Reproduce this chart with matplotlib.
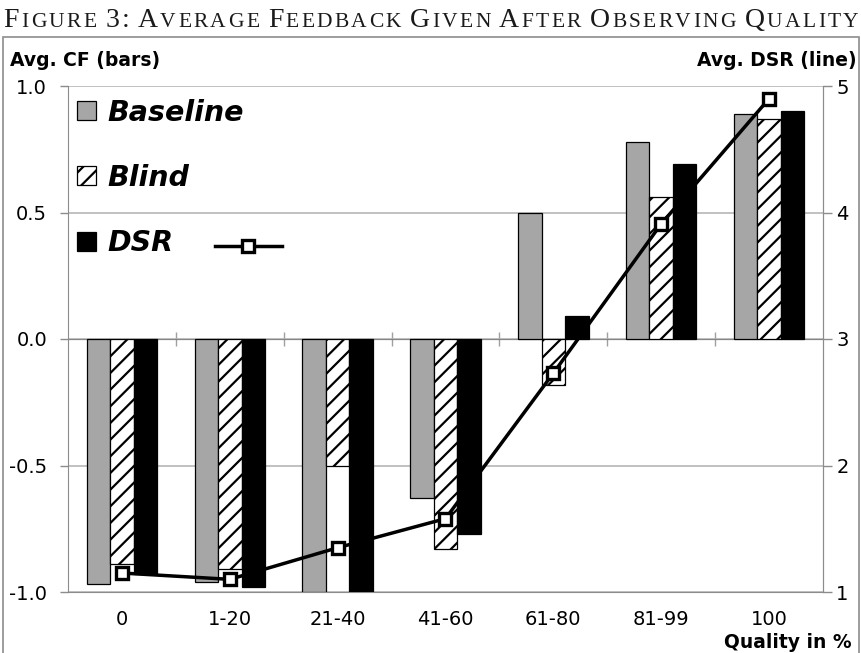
import matplotlib
matplotlib.use("Agg")
import matplotlib.pyplot as plt
from matplotlib.patches import Patch, Rectangle
from matplotlib.lines import Line2D

plt.rcParams['font.family'] = 'DejaVu Sans'
plt.rcParams['axes.unicode_minus'] = False
plt.rcParams['hatch.linewidth'] = 1.6

# data
categories = ["0", "1-20", "21-40", "41-60", "61-80", "81-99", "100"]
baseline_cf = [-0.97, -0.96, -1.00, -0.63, 0.50, 0.78, 0.89]
blind_cf = [-0.89, -0.91, -0.50, -0.83, -0.18, 0.56, 0.87]
dsr_cf = [-0.93, -0.98, -1.00, -0.77, 0.09, 0.69, 0.90]
dsr_line = [1.15, 1.10, 1.35, 1.58, 2.73, 3.91, 4.90]

left_ticks = [-1.0, -0.5, 0.0, 0.5, 1.0]
right_ticks = [1, 2, 3, 4, 5]

W, H = 862, 653
fig = plt.figure(figsize=(W / 100, H / 100), dpi=100)
ax = fig.add_axes([68 / W, (H - 592) / H, (823 - 68) / W, (592 - 86) / H])

x = list(range(len(categories)))
bw = 0.218
grey = "#a6a6a6"
ax.bar([i - bw for i in x], baseline_cf, bw, color=grey, edgecolor="black", linewidth=0.9, zorder=3)
ax.bar(x, blind_cf, bw, color="white", edgecolor="black", hatch="//", linewidth=0.9, zorder=3)
ax.bar([i + bw for i in x], dsr_cf, bw, color="black", edgecolor="black", linewidth=0.9, zorder=3)

ax.set_xlim(-0.5, len(categories) - 0.5)
ax.set_ylim(-1, 1)
ax.set_yticks(left_ticks)
ax.set_yticklabels(["%.1f" % v for v in left_ticks])
ax.set_xticks(x)
ax.set_xticklabels(categories)
ax.tick_params(axis="x", length=0, pad=13, labelsize=14)
ax.tick_params(axis="y", length=6, width=1, color="#8c8c8c", pad=9, labelsize=14)
ax.grid(axis="y", color="#b0b0b0", linewidth=1.1, zorder=0)
ax.set_axisbelow(True)
ax.spines["top"].set_visible(False)
for s in ["left", "right", "bottom"]:
    ax.spines[s].set_color("#8c8c8c")

# zero line with category-boundary ticks
sec = ax.secondary_xaxis(0.5)
sec.set_xticks([i + 0.5 for i in x[:-1]])
sec.set_xticklabels([])
sec.tick_params(direction="inout", length=9.5, width=1, color="#a0a0a0")
sec.spines["bottom"].set_color("#a0a0a0")

ax2 = ax.twinx()
ax2.plot(x, dsr_line, color="black", linewidth=2.5, marker="s", markersize=9,
         markerfacecolor="white", markeredgecolor="black", markeredgewidth=2.4, zorder=5)
ax2.set_ylim(1, 5)
ax2.set_yticks(right_ticks)
ax2.tick_params(axis="y", length=6.5, width=1, color="#8c8c8c", pad=3, labelsize=14)
for s in ["top", "left", "bottom"]:
    ax2.spines[s].set_visible(False)
ax2.spines["right"].set_color("#8c8c8c")

# legend
handles = [Patch(facecolor=grey, edgecolor="black", linewidth=0.9),
           Patch(facecolor="white", edgecolor="black", hatch="//", linewidth=0.9),
           Patch(facecolor="black", edgecolor="black", linewidth=0.9)]
leg = ax2.legend(handles, ["Baseline", "Blind", "DSR"], loc="upper left",
                 bbox_to_anchor=(0.012, 0.975), frameon=False, borderpad=0, borderaxespad=0,
                 handlelength=0.65, handleheight=0.65, handletextpad=0.4, labelspacing=1.31,
                 prop={"size": 20.5, "weight": "bold", "style": "italic"})
ax2.add_line(Line2D([0.195, 0.239, 0.283], [0.683, 0.683, 0.683], transform=ax2.transAxes,
                    color="black", linewidth=2.5, marker="s", markersize=9, markevery=[1],
                    markerfacecolor="white", markeredgecolor="black", markeredgewidth=2.4))

fig.text(10 / W, 1 - 61 / H, "Avg. CF (bars)", fontsize=13.5, fontweight="bold", va="center", ha="left")
fig.text(857 / W, 1 - 61 / H, "Avg. DSR (line)", fontsize=13.5, fontweight="bold", va="center", ha="right")
fig.text(852 / W, 1 - 642 / H, "Quality in %", fontsize=13.5, fontweight="bold", va="center", ha="right")

# outer frame
fig.patches.append(Rectangle((3 / W, -0.01), 856 / W, (H - 37) / H + 0.01, transform=fig.transFigure,
                             fill=False, edgecolor="#8c8c8c", linewidth=1.2))

# small caps title, one glyph at a time with tracking to fill the width
title = "FIGURE 3: AVERAGE FEEDBACK GIVEN AFTER OBSERVING QUALITY"
renderer = fig.canvas.get_renderer()
serif = "Liberation Serif"
big, small = 20.0, 15.5


def measure(s, size):
    if s == " ":
        return measure("A A", size) - measure("AA", size)
    t = fig.text(0, 0, s, fontsize=size, family=serif)
    w = t.get_window_extent(renderer).width
    t.remove()
    return w


glyphs = []
for word in title.split(" "):
    for k, ch in enumerate(word):
        glyphs.append((ch, big if (k == 0 or not ch.isalpha()) else small))
    glyphs.append((" ", big))
glyphs = glyphs[:-1]

widths = [measure(ch, size) for ch, size in glyphs]
gap = (855 - sum(widths)) / (len(glyphs) - 1)
cx = 3.5
for (ch, size), w in zip(glyphs, widths):
    if ch != " ":
        fig.text(cx / W, 1 - 27 / H, ch, fontsize=size, family=serif, color="#1a1a1a",
                 va="baseline", ha="left")
    cx += w + gap

fig.savefig("out.png", dpi=100)
